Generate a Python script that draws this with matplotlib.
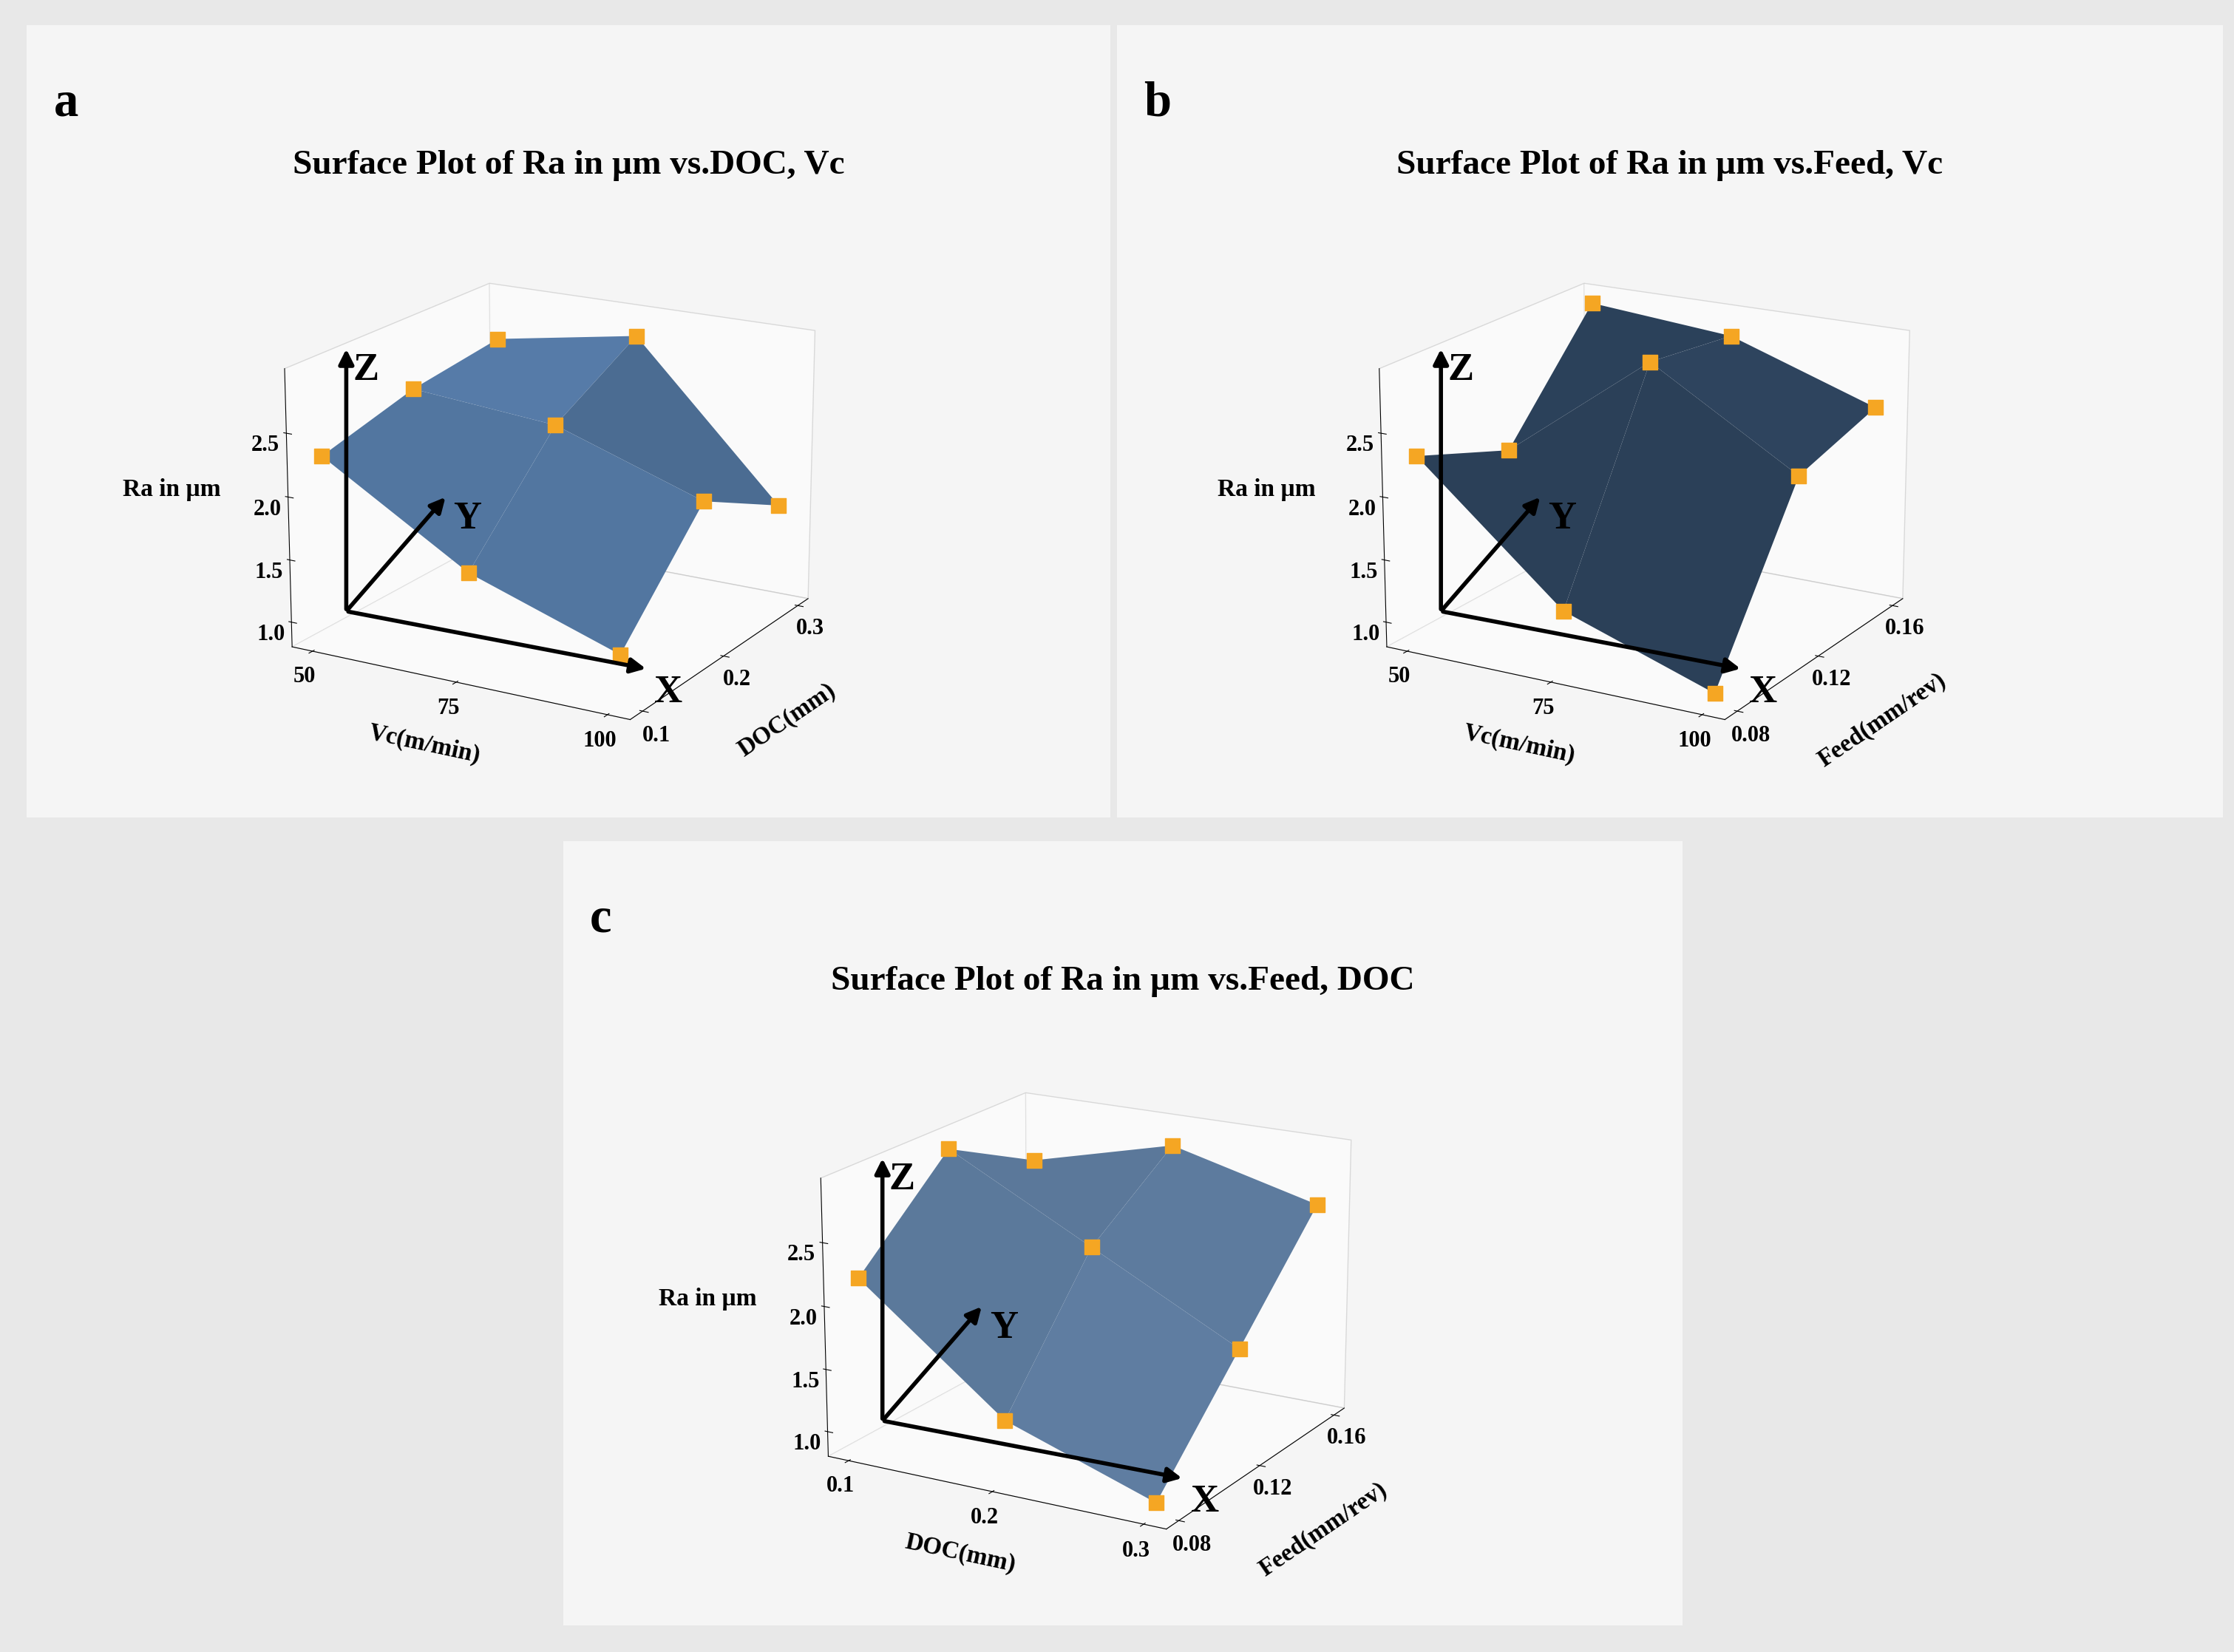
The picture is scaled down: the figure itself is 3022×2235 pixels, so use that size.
import numpy as np
import matplotlib
matplotlib.use("Agg")
import matplotlib.pyplot as plt
from matplotlib.patches import Rectangle, FancyArrowPatch
from matplotlib.colors import LightSource

vc = [50, 75, 100]
doc = [0.1, 0.2, 0.3]
feed = [0.08, 0.12, 0.16]
# rows: y variable, cols: x variable
ra_a = [[2.3, 1.6, 1.2], [2.5, 2.4, 2.0], [2.6, 2.8, 1.6]]
ra_b = [[2.3, 1.3, 0.9], [2.0, 2.9, 2.2], [2.9, 2.8, 2.4]]
ra_c = [[2.2, 1.3, 0.9], [2.9, 2.3, 1.7], [2.5, 2.8, 2.5]]
zticks = [1.0, 1.5, 2.0, 2.5]

plt.rcParams['font.family'] = 'Liberation Serif'
plt.rcParams['font.weight'] = 'bold'
fig = plt.figure(figsize=(30.22, 22.35), dpi=100)
fig.patch.set_facecolor('#e8e8e8')

panels = [
    dict(box=(0.012, 0.505, 0.485, 0.48), ax=(0.06, 0.52, 0.37, 0.36), x=vc, y=doc, z=ra_a,
         xl='Vc(m/min)', yl='DOC(mm)', t='Surface Plot of Ra in µm vs.DOC, Vc', lab='a', c='#6f9fd8'),
    dict(box=(0.50, 0.505, 0.495, 0.48), ax=(0.55, 0.52, 0.37, 0.36), x=vc, y=feed, z=ra_b,
         xl='Vc(m/min)', yl='Feed(mm/rev)', t='Surface Plot of Ra in µm vs.Feed, Vc', lab='b', c='#3c5a7c'),
    dict(box=(0.252, 0.016, 0.501, 0.475), ax=(0.30, 0.03, 0.37, 0.36), x=doc, y=feed, z=ra_c,
         xl='DOC(mm)', yl='Feed(mm/rev)', t='Surface Plot of Ra in µm vs.Feed, DOC', lab='c', c='#8ab6ea'),
]

for p in panels:
    bx, by, bw, bh = p['box']
    fig.add_artist(Rectangle((bx, by), bw, bh, transform=fig.transFigure,
                             facecolor='#f5f5f5', edgecolor='none', zorder=-5))
    fig.text(bx + 0.012, by + bh - 0.055, p['lab'], fontsize=48, fontweight='bold')
    fig.text(bx + bw / 2, by + bh - 0.09, p['t'], fontsize=34, fontweight='bold', ha='center')
    ax = fig.add_axes(p['ax'], projection='3d')
    ax.set_facecolor('none')
    ax.patch.set_alpha(0)
    X, Y = np.meshgrid(p['x'], p['y'])
    Z = np.array(p['z'])
    ls = LightSource(azdeg=250, altdeg=65)
    ax.plot_surface(X, Y, Z, color=p['c'], shade=True, lightsource=ls,
                    edgecolor='none', antialiased=True)
    ax.scatter(X.ravel(), Y.ravel(), Z.ravel(), marker='s', s=220, c='#f5a623',
               depthshade=False, zorder=10)
    ax.view_init(elev=18, azim=-60)
    ax.set_zlim(0.8, 3.0)
    ax.set_zticks(zticks)
    ax.set_xticks(p['x'])
    ax.set_yticks(p['y'])
    ax.set_xticklabels([str(v) for v in p['x']])
    ax.set_yticklabels([str(v) for v in p['y']])
    ax.tick_params(labelsize=22)
    ax.zaxis._axinfo['juggled'] = (1, 2, 0)
    for a in (ax.xaxis, ax.yaxis, ax.zaxis):
        a.pane.set_facecolor('white')
        a.pane.set_edgecolor('#bbbbbb')
    ax.grid(False)
    ax.set_xlabel(p['xl'], fontsize=24, fontweight='bold', labelpad=25)
    ax.set_ylabel(p['yl'], fontsize=24, fontweight='bold', labelpad=35)
    ax.set_zlabel('')
    ax0x, ax0y, aw, ah = p['ax']
    fig.text(ax0x - 0.005, ax0y + ah * 0.5, 'Ra in µm', fontsize=24, fontweight='bold')
    # axis arrows
    ox, oy = ax0x + 0.095, ax0y + 0.11
    for dx, dy, lbl in [(0.135, -0.035, 'X'), (0.045, 0.07, 'Y'), (0.0, 0.16, 'Z')]:
        fig.add_artist(FancyArrowPatch((ox, oy), (ox + dx, oy + dy),
                       transform=fig.transFigure, arrowstyle='-|>', mutation_scale=30,
                       linewidth=4, color='black', zorder=20))
        fig.text(ox + dx + 0.003, oy + dy - 0.02, lbl, fontsize=38, fontweight='bold')

fig.savefig('out.png', dpi=100, facecolor=fig.get_facecolor())
